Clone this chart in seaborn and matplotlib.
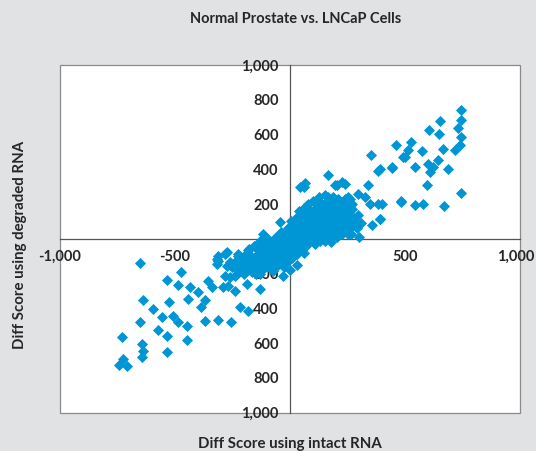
import matplotlib
matplotlib.use("Agg")
import matplotlib.pyplot as plt
import matplotlib.transforms as mtransforms
import seaborn as sns
import pandas as pd
from matplotlib.patches import Rectangle

# ---- data ----
intact_outer = [744, 744, 653, 605, 648, 732, 744, 460, 527, 515, 500, 576, 667, 718, 740,
                392, 445, 544, 602, 623, 645, 609, 686, 594, 744, 399, 483, 544, 580, 670, 392,
                352, 381, 445, 493, 167, 63, 225, 203, 341, 297, 328, 483, 384, 348, 392, 355,
                254, 210, 167, 196, 240, 203, 254, 44, 67]
degraded_outer = [740, 682, 678, 628, 605, 636, 586, 538, 557, 509, 470, 503, 515, 509, 542,
                  403, 413, 413, 432, 413, 452, 384, 403, 307, 265, 202, 211, 196, 198, 188, 115,
                  480, 390, 409, 470, 365, 297, 326, 307, 307, 259, 240, 217, 202, 202, 115, 82,
                  240, 221, 240, 307, 317, 202, 192, 297, 319]

intact_low = [-652, -536, -473, -485, -434, -398, -355, -442, -637, -526, -594, -387, -558,
              -507, -485, -449, -652, -572, -536, -369, -311, -256, -449, -732, -645, -637,
              -536, -724, -710, -743, -645, -311, -282, -276, -261, -290, -239, -340, -369,
              -43, -116, -275, -319, -224, -181, -152, -253, -210, -311, -277, -224, -260,
              -319, -217, -181, -130, -282, -239, -188, -130, -268, -217, -181, -72, -29,
              -94, -167]
degraded_low = [-141, -236, -193, -263, -279, -308, -240, -346, -352, -361, -403, -394, -452,
                -442, -481, -500, -481, -524, -557, -471, -467, -481, -580, -567, -605, -644,
                -648, -692, -730, -725, -682, -125, -86, -154, -221, -279, -298, -279, -352,
                96, 29, -77, -115, -96, -67, -48, -164, -183, -96, -79, -85, -135,
                -144, -135, -164, -202, -212, -212, -259, -288, -269, -394, -413, -183, -212,
                -154, -193]

intact_core = [-250, -230, -220, -200, -200, -190, -180, -175, -160, -155, -150, -140, -135,
               -130, -120, -120, -110, -105, -100, -95, -90, -85, -80, -75, -70, -65, -60,
               -55, -50, -45, -40, -40, -35, -30, -25, -20, -20, -15, -10, -10, -5, 0, 0, 5,
               5, 10, 10, 15, 20, 20, 25, 30, 30, 35, 40, 40, 45, 50, 50, 55, 60, 60, 65, 70,
               70, 75, 80, 80, 85, 90, 90, 95, 100, 100, 105, 110, 110, 115, 120, 120, 125,
               130, 130, 135, 140, 140, 145, 150, 150, 155, 160, 160, 165, 170, 170, 175, 180,
               180, 185, 190, 195, 200, 200, 205, 210, 215, 220, 225, 230, 235, 240, 245, 250,
               255, 260, 265, 270, 280, 290, 295, 300, 310, 20, 60, 100, 140, 180, 220, 260,
               -20, -60, -100, 0, 40, 80, 120, 160, 200, 240, 280]
degraded_core = [-150, -120, -180, -100, -200, -140, -60, -170, -120, -40, -200, -90, -150,
                 -10, -60, -180, -110, -30, -150, 0, -70, -120, -20, -170, -50, -100, 10,
                 -140, -30, -80, 40, -120, -10, -60, -160, 20, -100, -40, 60, -130, 0, -70,
                 -180, 30, 100, -30, -110, 70, 0, -60, 120, 40, -150, -20, 80, 160, 10, -40,
                 120, 50, -80, 180, 90, 20, 140, -20, 60, 200, 110, 0, 160, 40, 80, 220, 130,
                 -30, 20, 180, 60, 110, 240, 150, 10, 90, 200, 40, 130, -10, 250, 170, 70,
                 110, 220, 20, 150, 190, 80, -20, 240, 130, 50, 170, 100, 10, 210, 140, 70,
                 30, 180, 110, 150, 60, 200, 90, 130, 30, 170, 100, 60, 140, 10, 90, 30, 60,
                 90, 130, 170, 210, 230, -10, -50, -80, 30, 10, 40, 80, 120, 150, 160, 120]

intact_fill = [-240, -210, -190, -170, -150, -140, -125, -115, -100, -90, -80, -70, -60, -50,
               -40, -30, -20, -10, 0, 10, 20, 30, 40, 50, 60, 70, 80, 90, 100, 110, 120, 130,
               140, 150, 160, 170, 180, 190, 200, 210, 220, 230, 240, 250, 260, 270, -230,
               -200, -170, -140, -110, -80, -50, -20, 10, 40, 70, 100, 130, 160, 190, 220,
               250, 280, -60, -30, 0, 30, 60, 90, 120, 150, 180, 210, 240, 270]
degraded_fill = [-170, -130, -160, -110, -150, -120, -80, -140, -90, -40, -110, -20, -90, -60,
                 -20, -110, -70, -20, -110, 30, -20, 80, 20, 70, 10, 100, 30, 130, 50, 100,
                 170, 80, 160, 60, 140, 100, 40, 180, 60, 130, 110, 140, 80, 160, 60, 110,
                 -200, -190, -100, -60, -160, -140, -110, -140, -60, -70, -40, 10, -10, 30,
                 20, 30, 30, 80, -160, -130, 60, -90, 120, 60, 200, 200, 220, 230, 230, 200]

x_ticks = [-1000, -500, 500, 1000]
x_labels = ["-1,000", "-500", "500", "1,000"]
y_ticks = [1000, 800, 600, 400, 200, -200, -400, -600, -800, -1000]
y_labels = ["1,000", "800", "600", "400", "200", "200", "400", "600", "800", "1,000"]

df = pd.DataFrame({
    "intact": intact_outer + intact_low + intact_core + intact_fill,
    "degraded": degraded_outer + degraded_low + degraded_core + degraded_fill,
})

# ---- styling ----
sns.set_style("white")
plt.rcParams["font.family"] = ["Lato", "DejaVu Sans"]
bg = "#e1e2e4"
blue = "#0096d6"
txt = "#262626"

fig = plt.figure(figsize=(5.36, 4.51), dpi=100, facecolor=bg)
ax = fig.add_axes([60 / 536, 1 - 412.7 / 451, 460 / 536, (412.7 - 65) / 451])
ax.set_facecolor("white")

sns.scatterplot(data=df, x="intact", y="degraded", ax=ax, marker="D", s=32,
                color=blue, linewidth=0, zorder=3, legend=False)

ax.set_xlim(-1000, 1000)
ax.set_ylim(-1000, 1000)
ax.set_axisbelow(True)

for side in ["left", "bottom"]:
    ax.spines[side].set_position(("data", 0))
    ax.spines[side].set_color("#555555")
    ax.spines[side].set_linewidth(0.9)
for side in ["top", "right"]:
    ax.spines[side].set_visible(False)
ax.add_patch(Rectangle((0, 0), 1, 1, transform=ax.transAxes, fill=False,
                       edgecolor="#8a8a8a", linewidth=0.9, clip_on=False, zorder=0.4))

ax.set_xticks(x_ticks)
ax.set_xticklabels(x_labels)
ax.set_yticks(y_ticks)
ax.set_yticklabels(y_labels)
ax.tick_params(axis="both", direction="out", length=4, width=0.8, color="#555555",
               labelsize=10.5, labelcolor=txt, pad=4)
for lab in ax.get_xticklabels() + ax.get_yticklabels():
    lab.set_fontweight("bold")

# keep the right-most x label inside the canvas
last = ax.get_xticklabels()[-1]
last.set_transform(last.get_transform() +
                   mtransforms.ScaledTranslation(-3 / 72, 0, fig.dpi_scale_trans))

ax.set_xlabel("")
ax.set_ylabel("")
fig.text(296 / 536, 1 - 19 / 451, "Normal Prostate vs. LNCaP Cells", ha="center",
         va="center", fontsize=10.5, fontweight="bold", color=txt)
fig.text(290 / 536, 1 - 444 / 451, "Diff Score using intact RNA", ha="center",
         va="center", fontsize=10.8, fontweight="bold", color=txt)
fig.text(20 / 536, 1 - 245 / 451, "Diff Score using degraded RNA", ha="center",
         va="center", rotation=90, fontsize=10.8, fontweight="bold", color=txt)

fig.savefig("out.png", dpi=100, facecolor=bg)
